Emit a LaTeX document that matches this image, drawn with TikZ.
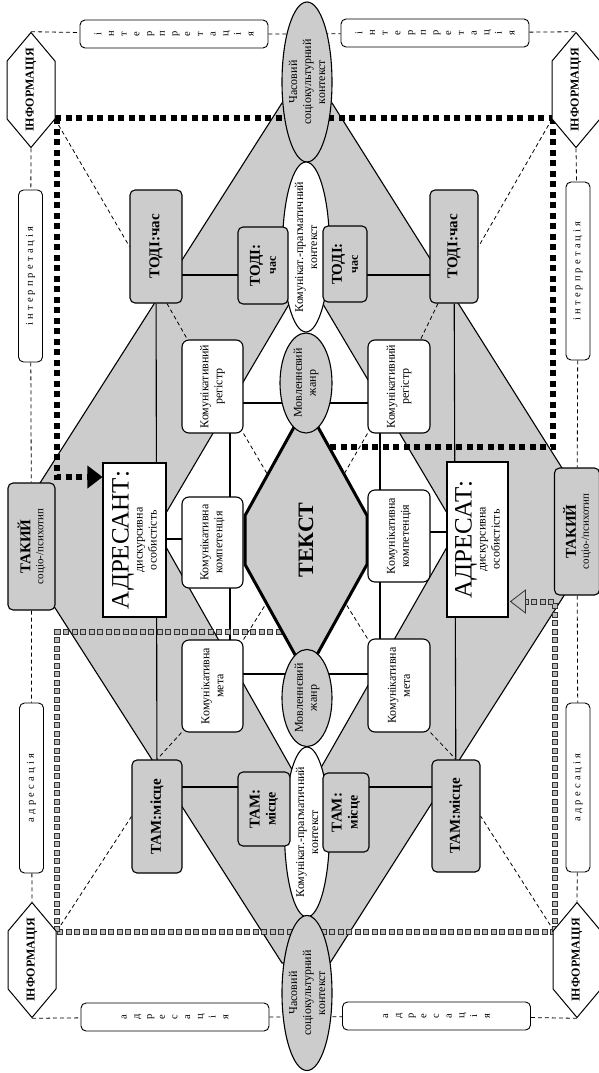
\documentclass[tikz,border=0pt]{standalone}
\usepackage{fontspec}
\setmainfont{Liberation Serif}
\usetikzlibrary{shapes.geometric,shapes.symbols,calc}

\pgfdeclarelayer{back}
\pgfdeclarelayer{mid}
\pgfsetlayers{back,mid,main}

\tikzset{
  lbl/.style={rotate=90, align=center, inner sep=1pt, font=\fontsize{12}{14}\selectfont},
  greybox/.style={lbl, draw, line width=1.1pt, fill=gray!40, rounded corners=5pt,
    font=\bfseries\fontsize{15}{16}\selectfont},
  whitebox/.style={lbl, draw, line width=1.1pt, fill=white, rounded corners=7pt},
  oval/.style={lbl, ellipse, draw, line width=1.1pt, inner xsep=-12pt, inner ysep=-8pt},
  info/.style={lbl, signal, signal to=east and west, signal pointer angle=80, draw,
    line width=1pt, fill=white, inner xsep=-16pt, minimum width=115pt, minimum height=48pt,
    font=\bfseries\fontsize{12}{14}\selectfont},
  sidebox/.style={lbl, draw, line width=0.9pt, fill=white, rounded corners=5pt},
  stackbox/.style={sidebox, minimum width=28pt, minimum height=188pt,
    font=\fontsize{10.5}{12.7}\selectfont},
  spacedbox/.style={sidebox, minimum height=24pt,
    font=\fontsize{10.5}{12}\selectfont\addfontfeature{LetterSpace=30}},
  edge/.style={line width=1.1pt},
  thinedge/.style={line width=0.8pt, dash pattern=on 4pt off 3pt},
  blackdots/.style={line width=6pt, dash pattern=on 6pt off 4.5pt},
  greydots/.style={preaction={draw=black!80, line width=6pt, dash pattern=on 6pt off 2.5pt, dash phase=0pt},
    draw=gray!55, line width=4pt, dash pattern=on 4pt off 4.5pt, dash phase=7.5pt},
}

\begin{document}
\begin{tikzpicture}[x=1pt, y=-1pt]
  \useasboundingbox (0,0) rectangle (598,1073);

  % centre column
  \node[lbl, signal, signal to=east and west, signal pointer angle=58, draw, line width=3pt,
    fill=gray!40, inner xsep=-20pt, minimum width=269pt, minimum height=122pt,
    font=\bfseries\fontsize{22}{24}\selectfont] (tekst) at (306,540) {ТЕКСТ};
  \node[oval, fill=gray!40, minimum width=160pt, minimum height=50pt] (chasT) at (307,82) {Часовий\\соціокультурний\\контекст};
  \node[oval, fill=white, minimum width=170pt, minimum height=47pt] (kpkT) at (306,247) {Комунікат.-прагматичний\\контекст};
  \node[oval, fill=gray!40, minimum width=100pt, minimum height=52pt] (zhanrT) at (306,383) {Мовленнєвий\\жанр};
  \node[oval, fill=gray!40, minimum width=97pt, minimum height=50pt] (zhanrB) at (307,698) {Мовленнєвий\\жанр};
  \node[oval, fill=white, minimum width=170pt, minimum height=45pt] (kpkB) at (307,832) {Комунікат.-прагматичний\\контекст};
  \node[oval, fill=gray!40, minimum width=155pt, minimum height=50pt] (chasB) at (307,993) {Часовий\\соціокультурний\\контекст};

  % time and place
  \node[greybox, minimum width=113pt, minimum height=52pt] (todiL) at (156,246.5) {ТОДІ:час};
  \node[greybox, minimum width=113pt, minimum height=48pt] (todiR) at (454,246.5) {ТОДІ:час};
  \node[greybox, minimum width=77pt, minimum height=50pt] (todiLs) at (263,265.5) {ТОДІ:\\{\fontsize{12}{13}\selectfont час}};
  \node[greybox, minimum width=76pt, minimum height=44pt] (todiRs) at (345,264) {ТОДІ:\\{\fontsize{12}{13}\selectfont час}};
  \node[greybox, minimum width=113pt, minimum height=50pt] (tamL) at (157,816.5) {ТАМ:місце};
  \node[greybox, minimum width=112pt, minimum height=48pt] (tamR) at (456,816) {ТАМ:місце};
  \node[greybox, minimum width=74pt, minimum height=52pt] (tamLs) at (264,809) {ТАМ:\\{\fontsize{14}{14}\selectfont місце}};
  \node[greybox, minimum width=79pt, minimum height=46pt] (tamRs) at (346,812.5) {ТАМ:\\{\fontsize{14}{14}\selectfont місце}};

  % communicative boxes
  \node[whitebox, minimum width=93pt, minimum height=61pt] (regL) at (212.5,386.5) {Комунікативний\\регістр};
  \node[whitebox, minimum width=93pt, minimum height=62pt] (regR) at (399,386.5) {Комунікативний\\регістр};
  \node[whitebox, minimum width=91pt, minimum height=61pt] (kompL) at (212.5,542.5) {Комунікативна\\компетенція};
  \node[whitebox, minimum width=92pt, minimum height=62pt] (kompR) at (399,536) {Комунікативна\\компетенція};
  \node[whitebox, minimum width=92pt, minimum height=61pt] (metaL) at (212.5,686) {Комунікативна\\мета};
  \node[whitebox, minimum width=93pt, minimum height=62pt] (metaR) at (399,685.5) {Комунікативна\\мета};

  % persons
  \node[lbl, draw, line width=1.1pt, fill=white, minimum width=154pt, minimum height=63pt]
    (adresant) at (134.5,540) {{\fontsize{25}{26}\selectfont АДРЕСАНТ:}\\дискурсивна\\особистість};
  \node[lbl, draw, line width=1.1pt, fill=white, minimum width=155pt, minimum height=61pt]
    (adresat) at (477.5,539.5) {{\fontsize{25}{26}\selectfont АДРЕСАТ:}\\дискурсивна\\особистість};
  \node[greybox, font=\fontsize{11}{13}\selectfont, minimum width=127pt, minimum height=47pt]
    (takL) at (31.5,546.5) {{\bfseries\fontsize{15}{16}\selectfont ТАКИЙ}\\соціо-/психотип};
  \node[greybox, font=\fontsize{11}{13}\selectfont, minimum width=127pt, minimum height=45pt]
    (takR) at (577,531.5) {{\bfseries\fontsize{15}{16}\selectfont ТАКИЙ}\\соціо-/психотип};

  % information corners
  \node[info] (infTL) at (31,90) {ІНФОРМАЦІЯ};
  \node[info] (infTR) at (576,90) {ІНФОРМАЦІЯ};
  \node[info] (infBL) at (32,960) {ІНФОРМАЦІЯ};
  \node[info] (infBR) at (577,960) {ІНФОРМАЦІЯ};

  % interpretation / addressing
  \node[stackbox] (intTL) at (174,34) {і\\н\\т\\е\\р\\п\\р\\е\\т\\а\\ц\\і\\я};
  \node[stackbox] (intTR) at (435,33) {і\\н\\т\\е\\р\\п\\р\\е\\т\\а\\ц\\і\\я};
  \node[stackbox] (adrBL) at (175,1017) {а\\д\\р\\е\\с\\а\\ц\\і\\я};
  \node[stackbox] (adrBR) at (436.5,1016) {а\\д\\р\\е\\с\\а\\ц\\і\\я};
  \node[spacedbox, minimum width=172pt] (intL) at (30.5,276) {інтерпретація};
  \node[spacedbox, minimum width=178pt] (intR) at (578,271) {інтерпретація};
  \node[spacedbox, minimum width=170pt] (adrL) at (31.5,788) {адресація};
  \node[spacedbox, minimum width=169pt] (adrR) at (578,787.5) {адресація};

  % arrow heads
  \fill ($(adresant.north)+(0,-63)$) -- ++(-15,-11.5) -- ++(0,23) -- cycle;
  \draw[fill=gray!45, draw=black!80, line width=0.8pt] ($(adresat.south)+(2,62)$) -- ++(15,-11.5) -- ++(0,23) -- cycle;

  \begin{pgfonlayer}{back}
    % grey field
    \draw[edge, fill=gray!40] (282,103) -- (40,483) -- (50,600) -- (282,963) -- (330,963)
      -- (565,594) -- (562,468) -- (332,103) -- cycle;
    % white inner field
    \draw[edge, fill=white] (295,294) -- (166,513) -- (166,547) -- (294,773) -- (318,773)
      -- (447,547) -- (447,513) -- (317,294) -- cycle;
  \end{pgfonlayer}

  \begin{pgfonlayer}{mid}
    \draw[edge] (todiL |- 0,275) -- (todiLs |- 0,275);
    \draw[edge] (todiRs |- 0,275) -- (todiR |- 0,275);
    \draw[edge] (tamL |- 0,787) -- (tamLs |- 0,787);
    \draw[edge] (tamRs |- 0,787) -- (tamR |- 0,787);
    \draw[edge] (todiL) -- (tamL);
    \draw[edge] (todiR) -- (tamR);
    \draw[edge] ($(regL)+(17.5,0)$) -- ($(metaL)+(17.5,0)$);
    \draw[edge] ($(regR)+(-19,0)$) -- ($(metaR)+(-19,0)$);
    \draw[edge] (regL |- 0,403) -- (zhanrT |- 0,403);
    \draw[edge] (zhanrT |- 0,403) -- (regR |- 0,403);
    \draw[edge] (metaL |- 0,674) -- (zhanrB |- 0,674);
    \draw[edge] (zhanrB |- 0,674) -- (metaR |- 0,674);
    \draw[edge] (adresant |- 0,539) -- (kompL |- 0,539);
    \draw[edge] (kompR |- 0,532) -- (adresat |- 0,532);

    % dashed links
    \draw[thinedge] ($(todiL.west)+(11,0)$) -- ($(regL.north east)+(6,0)$);
    \draw[thinedge] ($(todiR.west)+(-16,0)$) -- ($(regR.south east)+(-10,0)$);
    \draw[thinedge] (regL.south west) -- (tekst);
    \draw[thinedge] (regR.north west) -- (tekst);
    \draw[thinedge] (metaL.south east) -- (tekst);
    \draw[thinedge] (metaR.north east) -- (tekst);
    \draw[thinedge] (metaL.north west) -- (tamL.east);
    \draw[thinedge] (metaR.south west) -- (tamR.east);

    \draw[thinedge] (infTL.east) -- (intTL) -- (chasT |- intTL) -- (intTR) -- (infTR.east);
    \draw[thinedge] (infBL.west) -- (adrBL) -- (chasB |- adrBL) -- (adrBR) -- (infBR.west);
    \draw[thinedge] (infTL.west) -- (intL) -- (takL) -- (adrL) -- (infBL.east);
    \draw[thinedge] (infTR.west) -- (intR) -- (takR) -- (adrR) -- (infBR.east);
    \draw[thinedge] ($(infTL)+(24,29)$) -- (todiL.north);
    \draw[thinedge] ($(infTR)+(-24,29)$) -- (todiR.south);
    \draw[thinedge] ($(infBL)+(25,-29)$) -- (tamL.north);
    \draw[thinedge] ($(infBR)+(-23,-29)$) -- (tamR.south);

    % dotted frames
    \draw[blackdots] ($(infTL)+(24,28)$) -- ($(infTR)+(-23,28)$);
    \draw[blackdots] ($(infTL)+(26,28)$) |- ($(adresant.north)+(-15,-63)$);
    \draw[blackdots] ($(infTR)+(-23,28)$) |- (tekst |- 0,447);
    \draw[greydots] ($(infBL)+(25,-28)$) -- ($(infBR)+(-22,-28)$);
    \draw[greydots] ($(infBL)+(25,-28)$) |- (tekst |- 0,632);
    \draw[greydots] ($(infBR)+(-22,-28)$) |- ($(adresat.south)+(17,62)$);
  \end{pgfonlayer}
\end{tikzpicture}
\end{document}
